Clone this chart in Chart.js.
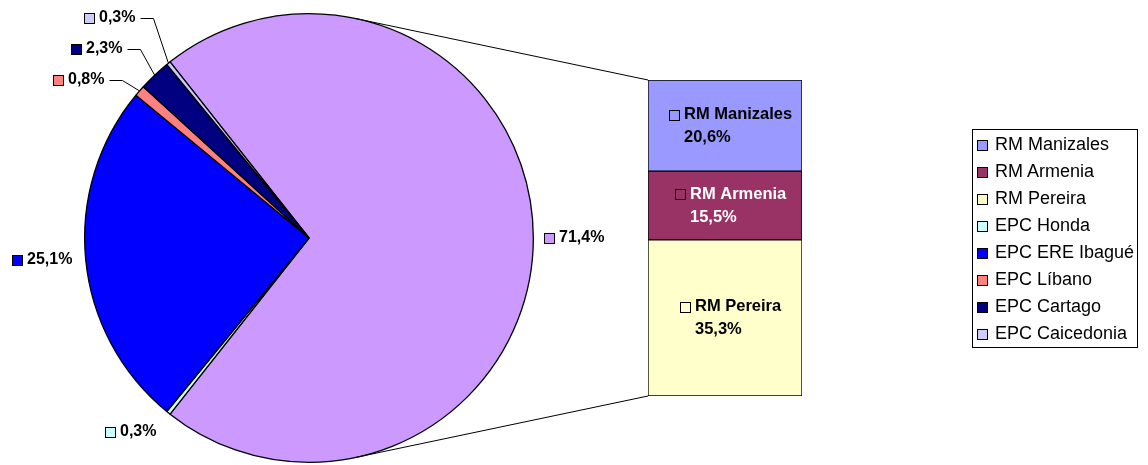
<!DOCTYPE html>
<html>
<head>
<meta charset="utf-8">
<script src="https://cdn.jsdelivr.net/npm/chart.js@4.4.1/dist/chart.umd.min.js"></script>
<style>
    body { margin: 0; background: #fff; font-family: "Liberation Sans", Arial, sans-serif; }
    #page { position: relative; width: 1148px; height: 465px; overflow: hidden; }
    #pieWrap { position: absolute; left: 0; top: 0; width: 1148px; height: 465px; }
    #barWrap { position: absolute; left: 638px; top: 70px; width: 174px; height: 336px; }
    #legend {
        position: absolute; left: 972px; top: 129px; width: 164px; height: 216px;
        border: 1px solid #000; padding-top: 1px; box-sizing: content-box;
    }
    .item { height: 27px; line-height: 27px; font-size: 18px; color: #000; white-space: nowrap; padding-left: 4px; }
    .key { display: inline-block; width: 9px; height: 9px; border: 1px solid #000; margin-right: 7px; vertical-align: -1px; }
</style>
</head>
<body>
<div id="page">
    <div id="pieWrap"><canvas id="pieChart"></canvas></div>
    <div id="barWrap"><canvas id="barChart"></canvas></div>
    <div id="legend"></div>
</div>
<script>
// Data
const barCategories = ['RM Manizales', 'RM Armenia', 'RM Pereira'];
const barValues = [20.6, 15.5, 35.3];
const pieCategories = ['EPC Honda', 'EPC ERE Ibagué', 'EPC Líbano', 'EPC Cartago', 'EPC Caicedonia'];
const pieValues = [0.3, 25.1, 0.8, 2.3, 0.3];

// Colours
const barColors = ['#9999FF', '#993366', '#FFFFCC'];
const barTextColors = ['#000000', '#FFFFFF', '#000000'];
const pieColors = ['#CCFFFF', '#0000FF', '#FF8080', '#000080', '#CCCCFF'];
const otherColor = '#CC99FF';

const FONT = '"Liberation Sans", Arial, sans-serif';
Chart.defaults.font.family = FONT;

// "Other" slice is the sum of the bar
const otherValue = barValues.reduce((a, b) => a + b, 0);
const pieTotal = otherValue + pieValues.reduce((a, b) => a + b, 0);

function pct(v) {
    return v.toFixed(1).replace('.', ',') + '%';
}

// small coloured square with a black border
function drawKey(ctx, x, cy, color) {
    const y0 = Math.round(cy - 5);
    ctx.fillStyle = color;
    ctx.fillRect(x, y0, 11, 11);
    ctx.strokeStyle = '#000';
    ctx.lineWidth = 1;
    ctx.strokeRect(x + 0.5, y0 + 0.5, 10, 10);
}

// Labels inside the stacked bar
const barLabels = {
    id: 'barLabels',
    afterDatasetsDraw(chart) {
        const ctx = chart.ctx;
        ctx.save();
        ctx.font = 'bold 16.5px ' + FONT;
        ctx.textBaseline = 'middle';
        ctx.textAlign = 'left';
        chart.data.datasets.forEach((ds, i) => {
            const bar = chart.getDatasetMeta(i).data[0];
            const cy = (bar.y + bar.base) / 2;
            const w = 15 + ctx.measureText(ds.label).width;
            const left = Math.round(bar.x + 6 - w / 2);
            drawKey(ctx, left, cy - 11, ds.backgroundColor);
            ctx.fillStyle = ds.textColor;
            ctx.fillText(ds.label, left + 15, cy - 11);
            ctx.fillText(pct(ds.data[0]), left + 15, cy + 12);
        });
        ctx.restore();
    }
};

// bottom segment first so it stacks from the base
const barDatasets = barCategories.map((name, i) => ({
    label: name,
    data: [barValues[i]],
    backgroundColor: barColors[i],
    textColor: barTextColors[i],
    borderColor: '#000',
    borderWidth: 1,
    borderSkipped: false,
    barPercentage: 1,
    categoryPercentage: 1
})).reverse();

const barChart = new Chart(document.getElementById('barChart'), {
    type: 'bar',
    data: { labels: [''], datasets: barDatasets },
    options: {
        responsive: true,
        maintainAspectRatio: false,
        animation: false,
        layout: { padding: 10 },
        scales: {
            x: { display: false, stacked: true },
            y: { display: false, stacked: true, min: 0, max: otherValue }
        },
        plugins: { legend: { display: false }, tooltip: { enabled: false } }
    },
    plugins: [barLabels]
});

// label spots round the pie: key left x, centre y
const pieLabelSpots = [
    { x: 544, y: 238 },
    { x: 105, y: 432 },
    { x: 12, y: 260 },
    { x: 53, y: 80, leader: true },
    { x: 71, y: 49, leader: true },
    { x: 84, y: 18, leader: true }
];

// Connector lines, slice labels and leader lines
const pieExtras = {
    id: 'pieExtras',
    afterDraw(chart) {
        const ctx = chart.ctx;
        const meta = chart.getDatasetMeta(0);
        const first = meta.data[0];
        const cx = first.x, cy = first.y, r = first.outerRadius;
        ctx.save();

        // lines from the pie to the bar corners (tangent to the circle)
        const wrap = document.getElementById('barWrap');
        const n = barChart.data.datasets.length;
        const topBar = barChart.getDatasetMeta(n - 1).data[0];
        const baseBar = barChart.getDatasetMeta(0).data[0];
        const corners = [
            [wrap.offsetLeft + topBar.x - topBar.width / 2, wrap.offsetTop + topBar.y],
            [wrap.offsetLeft + baseBar.x - baseBar.width / 2, wrap.offsetTop + baseBar.base]
        ];
        ctx.strokeStyle = '#000';
        ctx.lineWidth = 1;
        ctx.beginPath();
        corners.forEach(([px, py], k) => {
            const dx = px - cx, dy = py - cy;
            const d = Math.hypot(dx, dy);
            const a = Math.atan2(dy, dx) + (k === 0 ? -1 : 1) * Math.acos(r / d);
            ctx.moveTo(cx + r * Math.cos(a), cy + r * Math.sin(a));
            ctx.lineTo(px, py);
        });
        ctx.stroke();

        // slice labels
        ctx.font = 'bold 16px ' + FONT;
        ctx.textBaseline = 'middle';
        ctx.textAlign = 'left';
        const values = chart.data.datasets[0].data;
        const colors = chart.data.datasets[0].backgroundColor;
        meta.data.forEach((arc, i) => {
            const spot = pieLabelSpots[i];
            const text = pct(values[i]);
            drawKey(ctx, spot.x, spot.y, colors[i]);
            ctx.fillStyle = '#000';
            ctx.fillText(text, spot.x + 15, spot.y);
            if (spot.leader) {
                const tx = spot.x + 15 + ctx.measureText(text).width + 5;
                const mid = (arc.startAngle + arc.endAngle) / 2;
                ctx.beginPath();
                ctx.moveTo(tx, spot.y + 0.5);
                ctx.lineTo(tx + 13, spot.y + 0.5);
                ctx.lineTo(cx + r * Math.cos(mid), cy + r * Math.sin(mid));
                ctx.stroke();
            }
        });
        ctx.restore();
    }
};

const pieChart = new Chart(document.getElementById('pieChart'), {
    type: 'pie',
    data: {
        labels: ['Otros'].concat(pieCategories),
        datasets: [{
            data: [otherValue].concat(pieValues),
            backgroundColor: [otherColor].concat(pieColors),
            borderColor: '#000',
            borderWidth: 1.3,
            hoverOffset: 0
        }]
    },
    options: {
        responsive: true,
        maintainAspectRatio: false,
        animation: false,
        // keep "Otros" centred on the right-hand side, facing the bar
        rotation: 90 - (otherValue / pieTotal) * 180,
        layout: { padding: { left: 84, top: 13, right: 614, bottom: 2 } },
        plugins: { legend: { display: false }, tooltip: { enabled: false } }
    },
    plugins: [pieExtras]
});

// Legend box on the right
const legend = document.getElementById('legend');
barCategories.concat(pieCategories).forEach((name, i) => {
    const color = barColors.concat(pieColors)[i];
    const item = document.createElement('div');
    item.className = 'item';
    item.innerHTML = '<span class="key" style="background:' + color + '"></span>' + name;
    legend.appendChild(item);
});
</script>
</body>
</html>
